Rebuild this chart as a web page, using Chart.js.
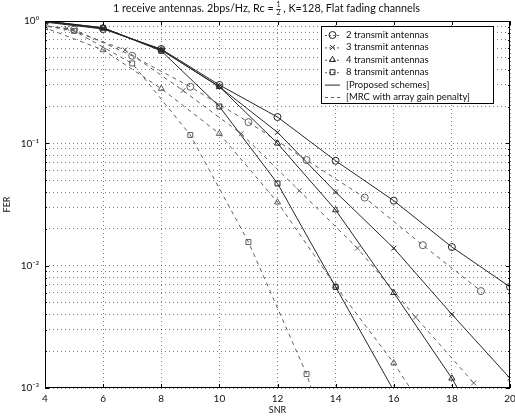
<!DOCTYPE html>
<html>
<head>
<meta charset="utf-8">
<script src="https://cdn.jsdelivr.net/npm/chart.js@4.4.0/dist/chart.umd.min.js"></script>
<style>
  html, body { margin: 0; padding: 0; background: #fff; }
  #wrap { width: 515px; height: 416px; }
</style>
</head>
<body>
<div id="wrap"><canvas id="c" width="515" height="416"></canvas></div>
<script>
// FER vs SNR, 1 rx antenna

// esquemas propuestos (línea continua), SNR par
const snrProposed = [4, 6, 8, 10, 12, 14, 16, 18, 20];
const ferProp2 = [0.98, 0.86, 0.59, 0.30, 0.164, 0.072, 0.034, 0.0142, 0.0067];
const ferProp3 = [0.99, 0.87, 0.58, 0.29, 0.123, 0.040, 0.0139, 0.0040, 0.0012];
const ferProp4 = [1.0, 0.88, 0.58, 0.29, 0.10, 0.0285, 0.0060, 0.0012, 0.00018];
const ferProp8 = [1.0, 0.88, 0.57, 0.20, 0.047, 0.0067, 0.00095, 0.0001, 0.00001];

// MRC con penalización de ganancia (línea discontinua)
const snrMrc2 = [3, 5, 7, 9, 11, 13, 15, 17, 19];
const ferMrc2 = [0.98, 0.85, 0.52, 0.29, 0.149, 0.073, 0.036, 0.0147, 0.0062];
const snrMrc3 = [2.75, 4.75, 6.75, 8.75, 10.75, 12.75, 14.75, 16.75, 18.75];
const ferMrc3 = [0.99, 0.87, 0.58, 0.27, 0.12, 0.041, 0.0139, 0.0038, 0.0011];
const snrMrc4 = [2, 4, 6, 8, 10, 12, 14, 16, 18];
const ferMrc4 = [1.0, 0.88, 0.58, 0.28, 0.12, 0.033, 0.0068, 0.0016, 0.0003];
const snrMrc8 = [3, 5, 7, 9, 11, 13, 15];
const ferMrc8 = [1.0, 0.83, 0.45, 0.117, 0.0156, 0.0013, 0.00005];

const xTicks = [4, 6, 8, 10, 12, 14, 16, 18, 20];
const yDecades = [1e-3, 1e-2, 1e-1, 1];
const legendLabels = ['2 transmit antennas', '3 transmit antennas', '4 transmit antennas', '8 transmit antennas', '[Proposed schemes]', '[MRC with array gain penalty]'];
const markerStyles = ['circle', 'crossRot', 'triangle', 'rect'];

const FONT = 'Lato, "Open Sans", sans-serif';
const solidColor = '#262626';
const dashColor = '#5e5e5e';

// rejilla menor: 1..9 x 10^k
const yGrid = [];
for (let i = 0; i < yDecades.length - 1; i++) {
    for (let m = 1; m < 10; m++) yGrid.push(yDecades[i] * m);
}
yGrid.push(yDecades[yDecades.length - 1]);

function toPoints(xs, ys) {
    return xs.map((x, i) => ({ x: x, y: ys[i] }));
}

function makeSet(label, xs, ys, style, dashed) {
    return {
        label: label,
        data: toPoints(xs, ys),
        showLine: true,
        borderColor: dashed ? dashColor : solidColor,
        borderWidth: 1,
        borderDash: dashed ? [4, 4] : [],
        pointStyle: style,
        pointRadius: 3.5,
        pointBorderWidth: 1,
        pointBorderColor: dashed ? dashColor : solidColor,
        pointBackgroundColor: 'rgba(0,0,0,0)',
        tension: 0
    };
}

const supMap = { '-': '\u207B', '0': '\u2070', '1': '\u00B9', '2': '\u00B2', '3': '\u00B3' };
function powLabel(v) {
    const e = Math.log10(v);
    if (Math.abs(e - Math.round(e)) > 1e-6) return '';
    return '10' + String(Math.round(e)).split('').map(c => supMap[c] || c).join('');
}

// título con fracción apilada
const titlePlugin = {
    id: 'fracTitle',
    afterDraw(chart) {
        const ctx = chart.ctx;
        const a = chart.chartArea;
        const pre = '1 receive antennas. 2bps/Hz, Rc = ';
        const post = ' , K=128, Flat fading channels';
        const big = '10.8px ' + FONT, small = '7px ' + FONT;
        ctx.save();
        ctx.fillStyle = '#111';
        ctx.font = big;
        const w1 = ctx.measureText(pre).width;
        const w3 = ctx.measureText(post).width;
        ctx.font = small;
        const w2 = ctx.measureText('2').width;
        const total = w1 + w2 + w3;
        let x = (a.left + a.right) / 2 - 11 - total / 2;
        const y = 9;
        ctx.textBaseline = 'middle';
        ctx.font = big;
        ctx.fillText(pre, x, y);
        x += w1;
        ctx.font = small;
        ctx.fillText('1', x, y - 4);
        ctx.fillText('2', x, y + 4);
        ctx.beginPath();
        ctx.lineWidth = 0.6;
        ctx.strokeStyle = '#111';
        ctx.moveTo(x - 0.5, y + 0.5);
        ctx.lineTo(x + w2 + 0.5, y + 0.5);
        ctx.stroke();
        x += w2;
        ctx.font = big;
        ctx.fillText(post, x, y);
        ctx.restore();
    }
};

// marco, marcas interiores y leyenda
const framePlugin = {
    id: 'frameLegend',
    afterDraw(chart) {
        const ctx = chart.ctx;
        const a = chart.chartArea;
        const xs = chart.scales.x;
        const ys = chart.scales.y;
        ctx.save();
        ctx.strokeStyle = '#000';
        ctx.lineWidth = 1;
        ctx.strokeRect(a.left + 0.5, a.top + 0.5, a.right - a.left - 1, a.bottom - a.top - 1);
        ctx.beginPath();
        xTicks.forEach(v => {
            const px = Math.round(xs.getPixelForValue(v)) + 0.5;
            ctx.moveTo(px, a.bottom); ctx.lineTo(px, a.bottom - 4);
            ctx.moveTo(px, a.top); ctx.lineTo(px, a.top + 4);
        });
        yGrid.forEach(v => {
            const py = Math.round(ys.getPixelForValue(v)) + 0.5;
            const len = powLabel(v) ? 4 : 2;
            ctx.moveTo(a.left, py); ctx.lineTo(a.left + len, py);
            ctx.moveTo(a.right, py); ctx.lineTo(a.right - len, py);
        });
        ctx.stroke();

        // leyenda
        const bx = a.right - 189, by = a.top + 5, bw = 172, bh = 77;
        ctx.fillStyle = '#fff';
        ctx.fillRect(bx, by, bw, bh);
        ctx.strokeRect(bx + 0.5, by + 0.5, bw, bh);
        ctx.font = '9.5px ' + FONT;
        ctx.textBaseline = 'middle';
        legendLabels.forEach((lab, i) => {
            const cy = by + 9 + i * 12.4;
            const lx0 = bx + 4, lx1 = bx + 19;
            ctx.beginPath();
            ctx.lineWidth = 1;
            if (i < 4) {
                ctx.strokeStyle = dashColor;
                ctx.setLineDash([2, 2]);
            } else if (i === 4) {
                ctx.strokeStyle = solidColor;
                ctx.setLineDash([]);
            } else {
                ctx.strokeStyle = dashColor;
                ctx.setLineDash([3, 3]);
            }
            ctx.moveTo(lx0, cy + 0.5);
            ctx.lineTo(lx1, cy + 0.5);
            ctx.stroke();
            ctx.setLineDash([]);
            if (i < 4) {
                ctx.strokeStyle = solidColor;
                ctx.fillStyle = 'rgba(0,0,0,0)';
                Chart.helpers.drawPoint(ctx, { pointStyle: markerStyles[i], radius: 3.5, rotation: 0, borderWidth: 1 }, (lx0 + lx1) / 2, cy);
            }
            ctx.fillStyle = '#111';
            ctx.fillText(lab, bx + 25, cy);
        });
        ctx.restore();
    }
};

const datasets = [
    makeSet('2 transmit antennas', snrProposed, ferProp2, markerStyles[0], false),
    makeSet('3 transmit antennas', snrProposed, ferProp3, markerStyles[1], false),
    makeSet('4 transmit antennas', snrProposed, ferProp4, markerStyles[2], false),
    makeSet('8 transmit antennas', snrProposed, ferProp8, markerStyles[3], false),
    makeSet('2 tx MRC', snrMrc2, ferMrc2, markerStyles[0], true),
    makeSet('3 tx MRC', snrMrc3, ferMrc3, markerStyles[1], true),
    makeSet('4 tx MRC', snrMrc4, ferMrc4, markerStyles[2], true),
    makeSet('8 tx MRC', snrMrc8, ferMrc8, markerStyles[3], true)
];

const gridStyle = {
    color: 'rgba(0,0,0,0.5)',
    lineWidth: 1,
    drawTicks: false
};

new Chart(document.getElementById('c').getContext('2d'), {
    type: 'scatter',
    data: { datasets: datasets },
    options: {
        responsive: false,
        animation: false,
        layout: { padding: { top: 21, right: 4, left: 0, bottom: 0 } },
        plugins: {
            legend: { display: false },
            tooltip: { enabled: false },
            title: { display: false }
        },
        scales: {
            x: {
                type: 'linear',
                min: 4,
                max: 20,
                afterBuildTicks: s => { s.ticks = xTicks.map(v => ({ value: v })); },
                afterFit: s => { s.height = 28; s.paddingLeft = 0; s.paddingRight = 0; },
                grid: gridStyle,
                border: { display: false, dash: [1, 3] },
                ticks: {
                    padding: 5,
                    color: '#111',
                    font: { family: FONT, size: 10 },
                    maxRotation: 0
                },
                title: {
                    display: true,
                    text: 'SNR',
                    color: '#111',
                    font: { family: FONT, size: 9 },
                    padding: { top: 0, bottom: 1 }
                }
            },
            y: {
                type: 'logarithmic',
                min: 1e-3,
                max: 1,
                afterBuildTicks: s => { s.ticks = yGrid.map(v => ({ value: v })); },
                afterFit: s => { s.width = 45; },
                grid: gridStyle,
                border: { display: false, dash: [1, 3] },
                ticks: {
                    padding: 6,
                    autoSkip: false,
                    color: '#111',
                    font: { family: FONT, size: 10 },
                    callback: v => powLabel(v)
                },
                title: {
                    display: true,
                    text: 'FER',
                    color: '#111',
                    font: { family: FONT, size: 9 },
                    padding: { top: 2, bottom: 0 }
                }
            }
        }
    },
    plugins: [titlePlugin, framePlugin]
});
</script>
</body>
</html>
